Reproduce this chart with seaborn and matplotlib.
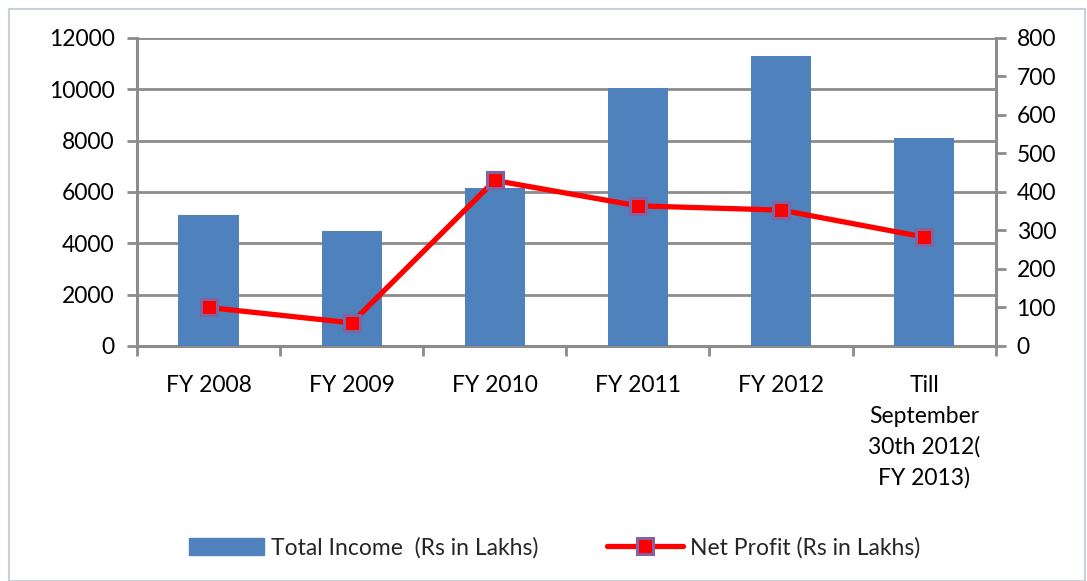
import numpy as np
import pandas as pd
import matplotlib
matplotlib.use("Agg")
import matplotlib.pyplot as plt
from matplotlib.patches import Patch, Rectangle
from matplotlib.lines import Line2D
import seaborn as sns

# Data
categories = ["FY 2008", "FY 2009", "FY 2010", "FY 2011", "FY 2012",
              "Till\nSeptember\n30th 2012(\nFY 2013)"]
total_income = [5100, 4480, 6150, 10050, 11300, 8100]
net_profit = [100, 60, 430, 364, 353, 283]

income_label = "Total Income  (Rs in Lakhs)"
profit_label = "Net Profit (Rs in Lakhs)"

sns.set_theme(style="white")
plt.rcParams['font.family'] = ['Lato', 'DejaVu Sans']

bar_color = "#4f81bd"
line_color = "#ff0000"
edge_purple = "#8064a2"
axis_gray = "#8c8c8c"
fs = 16.5

df = pd.DataFrame({"category": categories, "income": total_income})

fig = plt.figure(figsize=(10.87, 5.81), dpi=100)
ax = fig.add_axes([0.126, 0.4045, 0.79, 0.5301])

sns.barplot(data=df, x="category", y="income", color=bar_color,
            saturation=1, width=0.42, linewidth=0, edgecolor=bar_color,
            ax=ax, zorder=3)

ax.set_ylim(0, 12000)
ax.set_yticks(np.arange(0, 12001, 2000))
ax.set_xlim(-0.5, len(categories) - 0.5)
ax.set_xlabel("")
ax.set_ylabel("")
ax.yaxis.grid(True, color=axis_gray, linewidth=2, zorder=0)
ax.set_axisbelow(True)

for side in ["top", "right"]:
    ax.spines[side].set_visible(False)
for side in ["left", "bottom"]:
    ax.spines[side].set_color(axis_gray)
    ax.spines[side].set_linewidth(2.2)

ax.tick_params(axis="y", which="major", length=7, width=2, color=axis_gray,
               labelsize=fs, labelcolor="black", pad=9, left=True)
ax.set_xticks(np.arange(len(categories)))
ax.set_xticklabels(categories, fontsize=fs, linespacing=1.55)
ax.tick_params(axis="x", which="major", length=0, pad=21, labelcolor="black")
ax.set_xticks(np.arange(-0.5, len(categories)), minor=True)
ax.tick_params(axis="x", which="minor", length=7, width=2, color=axis_gray,
               bottom=True)

# Net profit on a secondary axis
ax2 = ax.twinx()
x_pos = np.arange(len(categories))
ax2.plot(x_pos, net_profit, color=line_color, linewidth=3.8, marker="s",
         markersize=11, markerfacecolor=line_color,
         markeredgecolor=edge_purple, markeredgewidth=2.2, zorder=5)
ax2.set_ylim(0, 800)
ax2.set_yticks(np.arange(0, 801, 100))
ax2.grid(False)
for side in ["top", "left", "bottom"]:
    ax2.spines[side].set_visible(False)
ax2.spines["right"].set_color(axis_gray)
ax2.spines["right"].set_linewidth(2.2)
ax2.tick_params(axis="y", length=7, width=2, color=axis_gray,
                labelsize=fs, labelcolor="black", pad=8, right=True)

handles = [
    Patch(facecolor=bar_color, edgecolor=bar_color, label=income_label),
    Line2D([0], [0], color=line_color, linewidth=3.8, marker="s",
           markersize=11, markerfacecolor=line_color,
           markeredgecolor=edge_purple, markeredgewidth=2.2,
           label=profit_label),
]
fig.legend(handles=handles, loc="center", bbox_to_anchor=(0.51, 0.057),
           ncol=2, frameon=False, fontsize=fs, handlelength=3.3,
           handleheight=0.8, columnspacing=3.0, handletextpad=0.3)

# thin chart frame
fig.patches.append(Rectangle((0.008, 0.0), 0.99, 0.985, transform=fig.transFigure,
                             fill=False, edgecolor="#c9d0dc", linewidth=1.5))

fig.savefig("out.png", dpi=100)
